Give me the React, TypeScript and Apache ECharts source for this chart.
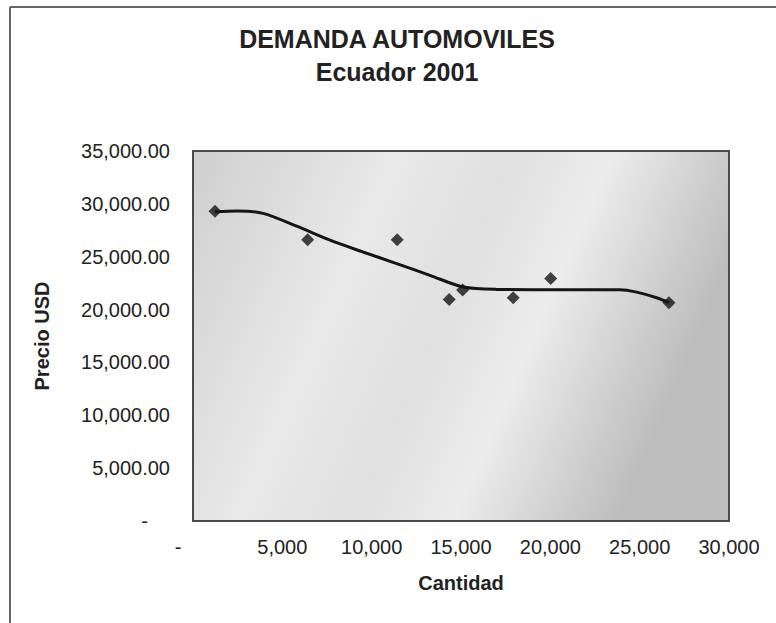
import React, { useEffect, useRef } from "react";
import * as echarts from "echarts";

const titleLines = ["DEMANDA AUTOMOVILES", "Ecuador 2001"];
const xAxisName = "Cantidad";
const yAxisName = "Precio USD";

// observed data points (Cantidad, Precio USD)
const xQuantity = [1230, 6420, 11430, 14340, 15090, 17920, 20020, 26640];
const yPrice = [29300, 26600, 26600, 20960, 21840, 21120, 22950, 20650];

// trend line
const trendX = [1230, 2520, 3920, 5800, 7670, 9510, 11400, 13260, 15130, 17000, 20700, 23890, 24830, 25950, 26640];
const trendY = [29250, 29330, 29100, 27890, 26560, 25450, 24350, 23240, 22130, 21910, 21880, 21880, 21650, 21120, 20650];

const xMin = 0, xMax = 30000, xStep = 5000;
const yMin = 0, yMax = 35000, yStep = 5000;

const FONT = "'Liberation Sans', Arial, sans-serif";

export default function App() {
  const ref = useRef<HTMLDivElement>(null);
  useEffect(() => {
    if (!ref.current) return;
    const chart = echarts.init(ref.current, null, { renderer: "svg" });
    const points = xQuantity.map((x, i) => [x, yPrice[i]]);
    const trend = trendX.map((x, i) => [x, trendY[i]]);
    chart.setOption({
      animation: false,
      backgroundColor: "#ffffff",
      textStyle: { fontFamily: FONT },
      graphic: [
        { type: "line", shape: { x1: 10, y1: 7, x2: 10, y2: 623 }, style: { stroke: "#666", lineWidth: 2 } },
        { type: "line", shape: { x1: 10, y1: 7, x2: 776, y2: 7 }, style: { stroke: "#666", lineWidth: 2 } },
        {
          type: "text", x: 397, y: 39,
          style: { text: titleLines[0], textAlign: "center", textVerticalAlign: "middle", fontSize: 25, fontWeight: "bold", fontFamily: FONT, fill: "#222" },
        },
        {
          type: "text", x: 397, y: 72,
          style: { text: titleLines[1], textAlign: "center", textVerticalAlign: "middle", fontSize: 25, fontWeight: "bold", fontFamily: FONT, fill: "#222" },
        },
      ],
      grid: {
        left: 193, top: 151, right: 47, bottom: 102,
        show: true,
        borderColor: "#4a4a4a",
        borderWidth: 2,
        backgroundColor: new echarts.graphic.LinearGradient(0, 0, 1, 0.3, [
          { offset: 0, color: "#cfcfcf" },
          { offset: 0.35, color: "#e9e9e9" },
          { offset: 0.55, color: "#e0e0e0" },
          { offset: 0.72, color: "#ececec" },
          { offset: 1, color: "#bdbdbd" },
        ]),
      },
      xAxis: {
        type: "value",
        min: xMin, max: xMax, interval: xStep,
        name: xAxisName,
        nameLocation: "middle",
        nameGap: 52,
        nameTextStyle: { fontSize: 20, fontWeight: "bold", color: "#222", fontFamily: FONT },
        axisLine: { show: false },
        axisTick: { show: false },
        splitLine: { show: false },
        axisLabel: {
          fontSize: 20, color: "#222", margin: 16, fontFamily: FONT,
          formatter: (v: number) => (v === 0 ? "{z|-}" : v.toLocaleString("en-US")),
          rich: { z: { fontSize: 20, color: "#222", padding: [0, 30, 0, 0] } },
        },
      },
      yAxis: {
        type: "value",
        min: yMin, max: yMax, interval: yStep,
        name: yAxisName,
        nameLocation: "middle",
        nameGap: 141,
        nameTextStyle: { fontSize: 20, fontWeight: "bold", color: "#222", fontFamily: FONT },
        axisLine: { show: false },
        axisTick: { show: false },
        splitLine: { show: false },
        axisLabel: {
          fontSize: 20, color: "#222", margin: 23, fontFamily: FONT,
          formatter: (v: number) =>
            v === 0 ? "{z|-}" : v.toLocaleString("en-US", { minimumFractionDigits: 2, maximumFractionDigits: 2 }),
          rich: { z: { fontSize: 20, color: "#222", padding: [0, 22, 0, 0] } },
        },
      },
      series: [
        {
          type: "line",
          data: trend,
          smooth: 0.3,
          showSymbol: false,
          symbol: "none",
          lineStyle: { color: "#151515", width: 3 },
          z: 2,
        },
        {
          type: "scatter",
          data: points,
          symbol: "diamond",
          symbolSize: 13,
          itemStyle: { color: "#151515" },
          z: 3,
        },
      ],
    });
    return () => chart.dispose();
  }, []);
  return <div ref={ref} style={{ width: 776, height: 623, position: "absolute", left: 0, top: 0 }} />;
}
